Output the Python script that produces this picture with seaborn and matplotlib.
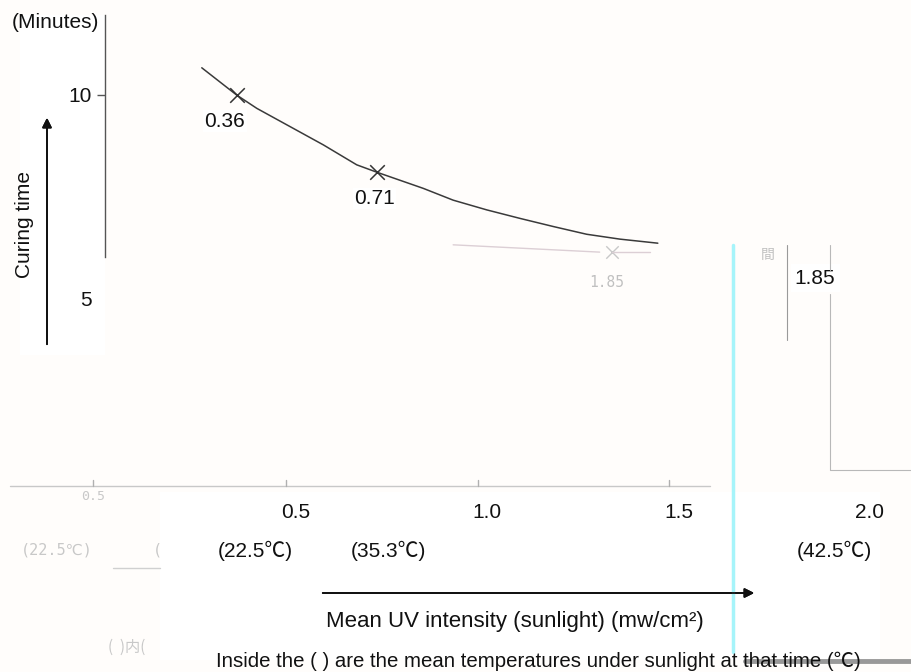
import seaborn as sns
import matplotlib.pyplot as plt
from matplotlib.lines import Line2D
from matplotlib.patches import Rectangle

# curing time vs mean UV intensity
uv_curve = [0.254, 0.345, 0.398, 0.485, 0.572, 0.659, 0.711, 0.833, 0.911,
            0.999, 1.086, 1.173, 1.260, 1.347, 1.446]
time_curve = [10.67, 10.0, 9.67, 9.22, 8.77, 8.28, 8.10, 7.70, 7.41,
              7.17, 6.96, 6.76, 6.57, 6.45, 6.35]

point_uv = [0.345, 0.711]
point_time = [10.0, 8.10]
point_labels = ["0.36", "0.71"]

# faded remains of the original drawing
old_uv = [0.911, 1.294, 1.326, 1.425]
old_time = [6.31, 6.13, 6.14, 6.14]
old_point_uv = [1.326]
old_point_time = [6.14]

right_label_uv = 1.857
right_label_time = 5.49

temp_uv = [0.395, 0.741, 1.907]
temp_labels = ["(22.5℃)", "(35.3℃)", "(42.5℃)"]

x_ticks = [0.5, 1.0, 1.5, 2.0]
x_ticklabels = ["0.5", "1.0", "1.5", "2.0"]
y_ticks = [5, 10]

sns.set_theme(style="white")
plt.rcParams['font.family'] = ['Liberation Sans', 'Noto Sans CJK JP', 'DejaVu Sans']
FS = 15

W, H = 912, 672
fig = plt.figure(figsize=(W / 100, H / 100), dpi=100, facecolor='#fffdfb')


def fx(x):
    return x / W


def fy(y):
    return 1 - y / H


def fline(xs, ys, **kw):
    fig.add_artist(Line2D([fx(v) for v in xs], [fy(v) for v in ys],
                          transform=fig.transFigure, **kw))


# white patches of the translation overlay
fig.add_artist(Rectangle((fx(160), fy(660)), fx(720), 168 / H, transform=fig.transFigure,
                         facecolor='white', edgecolor='none', zorder=0))
fig.add_artist(Rectangle((fx(20), fy(355)), fx(85), 340 / H, transform=fig.transFigure,
                         facecolor='white', edgecolor='none', zorder=0))

ax = fig.add_axes([104.6 / W, 186 / H, 795.4 / W, 471 / H])
ax.set_facecolor('none')

sns.lineplot(x=old_uv[:2], y=old_time[:2], ax=ax, color='#dccfd5', lw=1.0, sort=False)
sns.lineplot(x=old_uv[2:], y=old_time[2:], ax=ax, color='#dccfd5', lw=1.0, sort=False)
sns.scatterplot(x=old_point_uv, y=old_point_time, ax=ax, marker='x', s=80,
                color='#c8c8c8', linewidth=1.0)
ax.annotate("1.85", (old_point_uv[0], old_point_time[0]), xytext=(-4, -22),
            textcoords='offset points', color='#c0c0c0', fontsize=10.5,
            family=['DejaVu Sans Mono', 'DejaVu Sans'], ha='center', va='center')

sns.lineplot(x=uv_curve, y=time_curve, ax=ax, color='#3a3a3a', lw=1.1, sort=False)
sns.scatterplot(x=point_uv, y=point_time, ax=ax, marker='x', s=110,
                color='#333333', linewidth=1.1, zorder=3)
for u, t, lab, dx in zip(point_uv, point_time, point_labels, [-8.5, -1.5]):
    ax.annotate(lab, (u, t), xytext=(dx, -19), textcoords='offset points',
                ha='center', va='center', fontsize=FS, color='#111111',
                bbox=dict(facecolor='white', edgecolor='none', pad=1))

ax.text(right_label_uv, right_label_time, "1.85", fontsize=FS, color='#111111',
        ha='center', va='center',
        bbox=dict(facecolor='white', edgecolor='none', pad=3))

ax.set_xlim(0, 2.079)
ax.set_ylim(0.37, 11.97)

for s in ['top', 'right']:
    ax.spines[s].set_visible(False)
ax.spines['left'].set_bounds(6.0, 11.97)
ax.spines['left'].set_color('#555555')
ax.spines['left'].set_linewidth(1.0)
ax.spines['bottom'].set_visible(False)

ax.set_yticks(y_ticks)
ax.set_yticklabels([str(v) for v in y_ticks], fontsize=FS, color='#111111')
ax.tick_params(axis='y', length=6, width=1, color='#555555', pad=3, left=True)
ax.yaxis.get_major_ticks()[0].tick1line.set_visible(False)

ax.set_xticks(x_ticks)
ax.set_xticklabels(x_ticklabels, fontsize=FS, color='#111111')
ax.tick_params(axis='x', length=0, pad=12, bottom=True)

for u, lab in zip(temp_uv, temp_labels):
    ax.text(u, -0.138, lab, transform=ax.get_xaxis_transform(), ha='center', va='center',
            fontsize=FS, color='#111111')

# old axis line and its ticks
fline([10, 710], [486, 486], color='#c8c8c8', lw=1.0)
for p in [93, 286, 478, 669]:
    fline([p, p], [486, 480], color='#b0b0b0', lw=1.0)
fig.text(fx(93), fy(497), "0.5", color='#c8c8c8', fontsize=9.5, family='DejaVu Sans Mono',
         ha='center', va='center')
fig.text(fx(57), fy(550), "(22.5℃)", color='#c8c8c8', fontsize=11,
         family=['DejaVu Sans Mono', 'DejaVu Sans'], ha='center', va='center')
fig.text(fx(157), fy(550), "(", color='#c8c8c8', fontsize=11, family='DejaVu Sans Mono',
         ha='center', va='center')
fig.text(fx(127), fy(647), "(  )内(", color='#c8c8c8', fontsize=11,
         family=['Noto Sans CJK JP', 'DejaVu Sans'], ha='center', va='center')
fig.text(fx(768), fy(255), "間", color='#c0c0c0', fontsize=10,
         family=['Noto Sans CJK JP', 'DejaVu Sans'], ha='center', va='center')
fline([113, 160], [568, 568], color='#d0d0d0', lw=1.0)

# stray lines of the scan
fline([733, 733], [245, 652], color='#a6f4fa', lw=2.5)
fline([787, 787], [245, 340], color='#9a9a9a', lw=0.8)
fline([830, 830], [245, 270], color='#b8b8b8', lw=0.8)
fline([830, 830, 912], [294, 470, 470], color='#b8b8b8', lw=0.8)
fline([745, 912], [661, 661], color='#999999', lw=3.5)

# axis titles
fig.text(fx(55), fy(22), "(Minutes)", fontsize=FS, color='#111111', ha='center', va='center')
fig.text(fx(25), fy(225), "Curing time", rotation=90, fontsize=FS, color='#111111',
         ha='center', va='center')
fig.add_artist(plt.annotate("", xy=(fx(47), fy(115)), xytext=(fx(47), fy(347)),
                            xycoords='figure fraction',
                            arrowprops=dict(arrowstyle='-|>', color='#111111', lw=1.3,
                                            mutation_scale=14)))
fig.add_artist(plt.annotate("", xy=(fx(757), fy(593)), xytext=(fx(320), fy(593)),
                            xycoords='figure fraction',
                            arrowprops=dict(arrowstyle='-|>', color='#111111', lw=1.3,
                                            mutation_scale=14)))
fig.text(fx(515), fy(622), "Mean UV intensity (sunlight) (mw/cm²)", fontsize=16,
         color='#111111', ha='center', va='center')
fig.text(fx(538), fy(661), "Inside the ( ) are the mean temperatures under sunlight at that time (℃)",
         fontsize=14.7, color='#111111', ha='center', va='center')

fig.savefig("out.png", dpi=100, facecolor=fig.get_facecolor())
